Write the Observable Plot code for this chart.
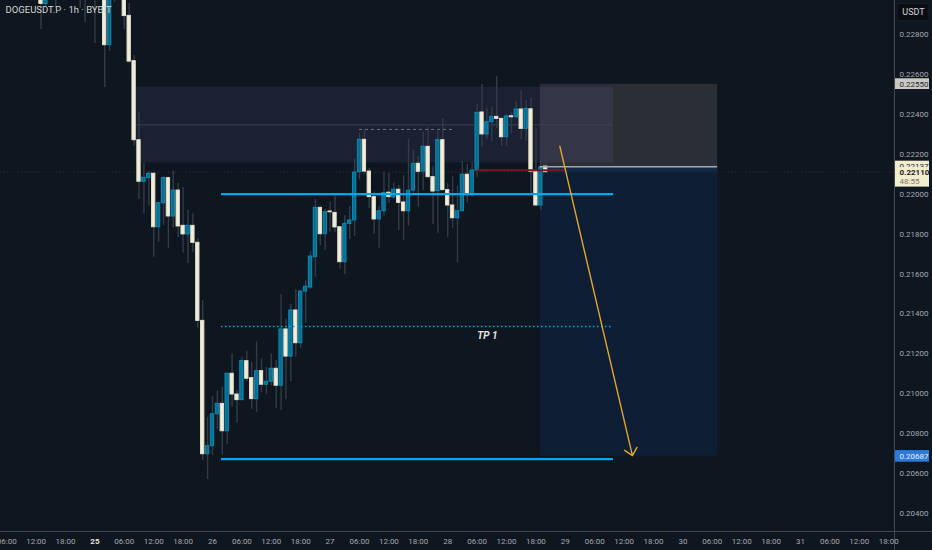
<!DOCTYPE html>
<html>
<head>
<meta charset="utf-8">
<style>
html,body{margin:0;padding:0;background:#0e1620;}
svg{display:block;}
</style>
<script src="https://cdn.jsdelivr.net/npm/d3@7"></script>
<script src="https://cdn.jsdelivr.net/npm/@observablehq/plot@0.6"></script>
</head>
<body>
<div id="chart"></div>
<script>
// Hours counted from 26 00:00; first candle is at hour -35
const firstHour = -35;
const opens = [
0.23070,0.22952,0.23170,0.23120,0.23120,0.23170,0.23120,0.23170,0.23100,0.23060,0.23020,0.23060,0.23020,0.23060,0.22746,0.23030,0.23000,0.23040,0.22893,0.22666,
0.22270,0.22062,0.22080,0.22102,0.21834,0.21954,0.22080,0.21888,0.22018,0.21841,0.21798,0.21841,0.21756,0.21365,0.20697,
0.20737,0.20897,0.20949,0.20812,0.21100,0.20996,0.20968,0.21163,0.21078,0.20973,0.21113,0.21045,0.21060,0.21125,0.21040,0.21322,0.21186,0.21417,0.21253,0.21512,
0.21532,0.21684,0.21931,0.21799,0.21913,0.21906,0.21834,0.21659,0.21851,0.21868,0.22110,0.22272,0.22113,0.21985,0.21873,0.21914,0.22007,0.21983,0.22022,0.21958,
0.21914,0.22018,0.22152,0.22113,0.22237,0.22085,0.22015,0.22270,0.22020,0.21943,0.21879,0.21914,0.22097,0.21995,0.22118,0.22409,0.22299,0.22360,0.22387,0.22377,
0.22285,0.22390,0.22385,0.22424,0.22327,0.22425,0.22112,0.21943,0.22138];
const closes = [
0.22953,0.23070,0.23070,0.23050,0.23170,0.23120,0.23170,0.23100,0.23060,0.23020,0.23060,0.23020,0.23060,0.22746,0.23020,0.23000,0.23040,0.22892,0.22664,0.22270,
0.22062,0.22082,0.22102,0.21834,0.21954,0.22080,0.21888,0.22018,0.21838,0.21798,0.21841,0.21756,0.21365,0.20697,0.20737,
0.20897,0.20949,0.20812,0.21100,0.20996,0.20968,0.21163,0.21075,0.20973,0.21113,0.21045,0.21060,0.21125,0.21040,0.21322,0.21186,0.21417,0.21253,0.21512,0.21536,
0.21687,0.21931,0.21799,0.21909,0.21909,0.21833,0.21659,0.21851,0.21868,0.22108,0.22272,0.22113,0.21985,0.21873,0.21914,0.22005,0.21985,0.22022,0.21956,0.21914,
0.22017,0.22152,0.22112,0.22237,0.22085,0.22013,0.22270,0.22020,0.21943,0.21879,0.21914,0.22097,0.21995,0.22118,0.22407,0.22299,0.22360,0.22387,0.22377,0.22285,
0.22389,0.22385,0.22424,0.22327,0.22427,0.22112,0.21943,0.22133,0.22110];
const highs = [
0.23120,0.23120,0.23220,0.23170,0.23220,0.23220,0.23220,0.23220,0.23150,0.23100,0.23100,0.23100,0.23100,0.23100,0.23060,0.23060,0.23070,0.23080,0.22955,0.22694,
0.22409,0.22153,0.22113,0.22103,0.21958,0.22088,0.22085,0.22113,0.22053,0.22035,0.21918,0.21901,0.21778,0.21467,0.20882,
0.20986,0.21013,0.21033,0.21103,0.21200,0.21016,0.21183,0.21213,0.21156,0.21260,0.21175,0.21133,0.21200,0.21166,0.21497,0.21373,0.21447,0.21521,0.21516,0.21564,
0.21712,0.21973,0.21941,0.21923,0.21960,0.21993,0.21838,0.21893,0.21938,0.22177,0.22302,0.22319,0.22130,0.22010,0.21938,0.22110,0.22103,0.22055,0.22043,0.22092,
0.22274,0.22219,0.22188,0.22310,0.22332,0.22140,0.22315,0.22377,0.22052,0.22088,0.22040,0.22163,0.22150,0.22158,0.22452,0.22549,0.22432,0.22434,0.22589,0.22380,
0.22402,0.22410,0.22465,0.22516,0.22469,0.22481,0.22332,0.22168,0.22160];
const lows = [
0.22825,0.22940,0.23020,0.22930,0.23050,0.23040,0.23050,0.23030,0.22930,0.22860,0.22990,0.22755,0.22990,0.22534,0.22714,0.22960,0.22985,0.22825,0.22654,0.22239,
0.21973,0.21903,0.21939,0.21684,0.21759,0.21843,0.21729,0.21829,0.21783,0.21704,0.21652,0.21709,0.21328,0.20665,0.20570,
0.20690,0.20819,0.20694,0.20746,0.20932,0.20852,0.20963,0.21061,0.20922,0.20906,0.21005,0.20996,0.21040,0.20927,0.20917,0.20970,0.21061,0.21183,0.21228,0.21353,
0.21522,0.21584,0.21743,0.21718,0.21809,0.21808,0.21624,0.21596,0.21773,0.21788,0.22072,0.22098,0.21929,0.21798,0.21729,0.21889,0.21953,0.21973,0.21818,0.21768,
0.21839,0.21998,0.21934,0.22018,0.22078,0.21846,0.21804,0.22018,0.21784,0.21829,0.21656,0.21913,0.21954,0.21985,0.22082,0.22232,0.22274,0.22260,0.22329,0.22239,
0.22239,0.22302,0.22377,0.22272,0.22265,0.22002,0.21941,0.21918,0.22108];

const yTicks = [0.204,0.206,0.208,0.21,0.212,0.214,0.216,0.218,0.22,0.222,0.224,0.226,0.228];
const xTickHours = [-42,-36,-30,-18,-12,-6,0,6,12,18,24,30,36,42,48,54,60,66,72,78,84,90,96,102,108,114,120,126,132,138];
const xTickLabels = ["06:00","12:00","18:00","06:00","12:00","18:00","26","06:00","12:00","18:00","27","06:00","12:00","18:00","28","06:00","12:00","18:00","29","06:00","12:00","18:00","30","06:00","12:00","18:00","31","06:00","12:00","18:00"];
const boldTickHours = [-24];
const boldTickLabels = ["25"];

// Trade drawing levels (price) and time spans (hours)
const zone = {x1:-15.6, x2:81.84, y1:0.22156, y2:0.22536, mid:0.22347};
const shortBox = {x1:66.88, x2:103.1, stop:0.2255, entry:0.22137, last:0.2211, target:0.20687};
const levelLines = {x1:1.84, x2:81.84, top:0.22, dotted:0.21337, bottom:0.20672};
const dashedHigh = {x1:30, x2:49.2, y:0.22324};
const redLine = {x1:54, x2:72, y:0.2212};
const arrowLeg = {x1:70.88, y1:0.2224, x2:85.7, y2:0.2069};
const tpLabel = {x:56.1, y:0.21292, text:"TP 1"};
const panel = {x1:139.39, x2:146.33, edge:139.18, pad:-43.3, end:147, axisBottom:0.20215, chartBottom:0.20310};

const candles = opens.map((o,i)=>({h:firstHour+i,o,c:closes[i],hi:highs[i],lo:lows[i]}));
const up = candles.filter(d=>d.c>=d.o);
const down = candles.filter(d=>d.c<d.o);
const hw = 0.34;
const bg = "#0e1620", cream="#f1eedb", teal="#0a6e90", line="#00a6ee";

const bodyOpts = (fill,stroke)=>({x1:d=>d.h-hw,x2:d=>d.h+hw,y1:"o",y2:"c",fill,stroke,strokeWidth:1,clip:"frame"});

const chart = Plot.plot({
  width:932,height:550,
  marginLeft:0,marginTop:0,marginRight:38,marginBottom:19,
  style:{background:bg,fontFamily:"Roboto, sans-serif",fontSize:"8px"},
  x:{type:"linear",domain:[-212/4.9,682/4.9],range:[0,894]},
  y:{type:"linear",domain:[0.2030970,0.2297],range:[531,0]},
  marks:[
    // short position box
    Plot.rect([shortBox],{x1:"x1",x2:"x2",y1:"entry",y2:"stop",fill:"#2a2f36"}),
    Plot.rect([shortBox],{x1:"x1",x2:"x2",y1:"target",y2:"last",fill:"#0e1f35"}),
    Plot.rect([shortBox],{x1:"x1",x2:"x2",y1:"last",y2:"entry",fill:"#122a48"}),
    // supply zone
    Plot.rect([zone],{x1:"x1",x2:"x2",y1:"y1",y2:"y2",fill:"rgb(141,122,205)",fillOpacity:0.11}),
    Plot.ruleY([zone.mid],{x1:zone.x1,x2:zone.x2,stroke:"#3c4152",strokeWidth:1}),
    // last price crosshair
    Plot.ruleY([shortBox.last],{x1:panel.pad,x2:panel.edge,stroke:"#272e38",strokeWidth:1,strokeDasharray:"1.5,2"}),
    // wicks
    Plot.ruleX(candles,{x:"h",y1:"lo",y2:"hi",stroke:"#323c49",strokeWidth:1.4,clip:"frame"}),
    // bodies
    Plot.rect(up,bodyOpts(teal,"#0a8ab8")),
    Plot.rect(down,bodyOpts(cream,"#e2dfca")),
    // levels
    Plot.ruleY([levelLines.top],{x1:levelLines.x1,x2:levelLines.x2,stroke:line,strokeWidth:2.2}),
    Plot.ruleY([levelLines.bottom],{x1:levelLines.x1,x2:levelLines.x2,stroke:line,strokeWidth:2.2}),
    Plot.ruleY([levelLines.dotted],{x1:levelLines.x1,x2:levelLines.x2,stroke:line,strokeWidth:1.4,strokeDasharray:"1.5,2.5"}),
    Plot.ruleY([dashedHigh.y],{x1:dashedHigh.x1,x2:dashedHigh.x2,stroke:"#6c727c",strokeWidth:1,strokeDasharray:"3,3"}),
    Plot.ruleY([redLine.y],{x1:redLine.x1,x2:redLine.x2,stroke:"#7c1422",strokeWidth:2}),
    Plot.ruleY([shortBox.entry],{x1:shortBox.x1,x2:shortBox.x2,stroke:"#a4a8a8",strokeWidth:1.4}),
    // arrow
    Plot.arrow([arrowLeg],{x1:"x1",y1:"y1",x2:"x2",y2:"y2",stroke:"#e3a52f",strokeWidth:1.4,headLength:10,headAngle:85}),
    Plot.text([tpLabel],{x:"x",y:"y",text:"text",fill:"#e8e8e8",fontSize:10,fontWeight:"bold",fontStyle:"italic"}),
    // symbol title
    Plot.text(["DOGEUSDT.P · 1h · BYBIT"],{frameAnchor:"top-left",dx:5,dy:6,fill:"#d6d6cf",fontSize:9.5,fontFamily:"'Liberation Sans Narrow', Roboto, sans-serif",textAnchor:"start"}),
    // frame lines
    Plot.ruleY([panel.chartBottom],{x1:panel.pad,x2:panel.end,stroke:"#434b54",strokeWidth:1}),
    Plot.ruleX([panel.edge],{y1:panel.axisBottom,y2:0.2297,stroke:"#434b54",strokeWidth:1}),
    // axes
    Plot.axisX({anchor:"bottom",ticks:xTickHours,tickFormat:h=>xTickLabels[xTickHours.indexOf(h)],tickSize:0,tickPadding:7,label:null,fill:"#a6a9ae",ariaLabel:"time-ticks"}),
    Plot.axisX({anchor:"bottom",ticks:boldTickHours,tickFormat:()=>boldTickLabels[0],tickSize:0,tickPadding:7,label:null,fill:"#e6e6e0",fontWeight:"bold"}),
    Plot.axisY({anchor:"right",ticks:yTicks,tickFormat:d=>d.toFixed(5),tickSize:0,tickPadding:5,label:null,fill:"#a6a9ae"}),
    // price tags on the axis
    Plot.rect([{y1:0.22524,y2:0.22578}],{x1:panel.x1,x2:panel.x2,y1:"y1",y2:"y2",fill:"#c9c9c2"}),
    Plot.text(["0.22550"],{x:panel.edge,dx:5,y:[0.2255],text:d=>d,textAnchor:"start",fill:"#23272d"}),
    Plot.rect([{y1:0.22113,y2:0.22165}],{x1:panel.x1,x2:panel.x2,y1:"y1",y2:"y2",fill:"#f1edcf"}),
    Plot.text(["0.22137"],{x:panel.edge,dx:5,y:[0.22137],text:d=>d,textAnchor:"start",fill:"#23272d"}),
    Plot.rect([{y1:0.22035,y2:0.22133}],{x1:panel.x1,x2:panel.x2,y1:"y1",y2:"y2",fill:"#f1edcf"}),
    Plot.text(["0.22110"],{x:panel.edge,dx:5,y:[0.2211],text:d=>d,textAnchor:"start",fill:"#1a1d22",fontWeight:"bold"}),
    Plot.text(["48:55"],{x:panel.edge,dx:5,y:[0.22063],text:d=>d,textAnchor:"start",fill:"#7c7b66"}),
    Plot.rect([{y1:0.20657,y2:0.20715}],{x1:panel.x1,x2:panel.x2,y1:"y1",y2:"y2",fill:"#2b7cd8"}),
    Plot.text(["0.20687"],{x:panel.edge,dx:5,y:[0.20687],text:d=>d,textAnchor:"start",fill:"#e4edf8"}),
    Plot.rect([{y1:0.22866,y2:0.22953}],{x1:139.8,x2:panel.x2,y1:"y1",y2:"y2",fill:"#0a0e14",stroke:"#1a212c",rx:2}),
    Plot.text(["USDT"],{x:143.06,y:[0.2291],text:d=>d,fill:"#d4d4d0",fontSize:9})
  ]
});
document.getElementById("chart").appendChild(chart);

// cut the time labels where the price panel starts
const svg = d3.select(chart);
svg.append("defs").append("clipPath").attr("id","timeClip").append("rect").attr("x",0).attr("y",0).attr("width",894).attr("height",550);
svg.selectAll('[aria-label="x-axis tick label"]').attr("clip-path","url(#timeClip)");
</script>
</body>
</html>
